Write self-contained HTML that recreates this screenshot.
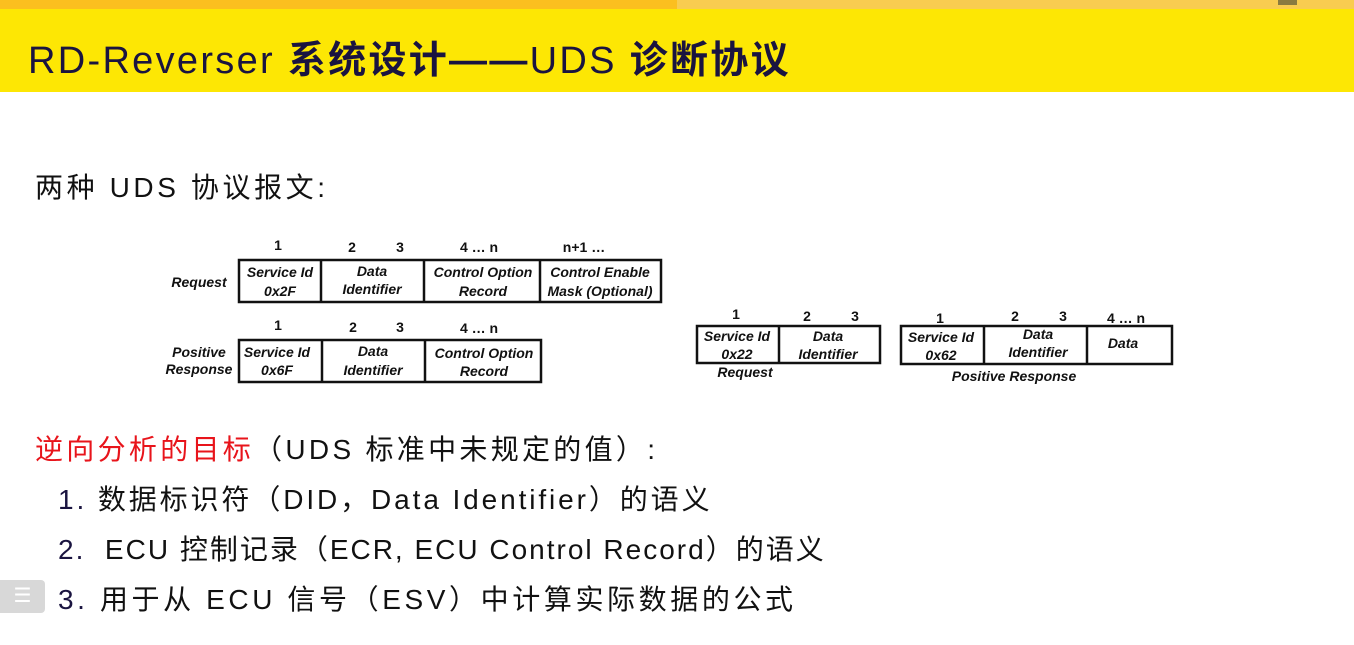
<!DOCTYPE html>
<html><head><meta charset="utf-8"><style>
body{margin:0;width:1354px;height:645px;overflow:hidden;background:#fff;position:relative;font-family:"Liberation Sans","Noto Sans CJK SC",sans-serif}
.t{position:absolute;white-space:nowrap;font-size:28px;color:#111;letter-spacing:3px}
</style></head><body>
<div style="position:absolute;left:0;top:0;width:677px;height:9px;background:#fbbf1f"></div>
<div style="position:absolute;left:677px;top:0;width:677px;height:9px;background:#f9cc50"></div>
<div style="position:absolute;left:1278px;top:0;width:19px;height:5px;background:#8a7a40"></div>
<div style="position:absolute;left:0;top:9px;width:1354px;height:83px;background:#fde704"></div>
<div class="t" style="left:28px;top:29px;font-size:38px;color:#1a1440;letter-spacing:2.3px">RD-Reverser <b>系统设计——</b>UDS <b>诊断协议</b></div>
<div class="t" style="left:35px;top:166px;letter-spacing:3.6px">两种 UDS 协议报文:</div>
<div class="t" style="left:35px;top:428px;letter-spacing:3.3px"><span style="color:#e8141b">逆向分析的目标</span>（UDS 标准中未规定的值）:</div>
<div class="t" style="left:58px;top:478px;letter-spacing:2.9px"><span style="color:#1a1440">1.</span> 数据标识符（DID，Data Identifier）的语义</div>
<div class="t" style="left:58px;top:528px;letter-spacing:2px"><span style="color:#1a1440">2.</span>&nbsp; ECU 控制记录（ECR, ECU Control Record）的语义</div>
<div class="t" style="left:58px;top:578px;letter-spacing:3.6px"><span style="color:#1a1440">3.</span> 用于从 ECU 信号（ESV）中计算实际数据的公式</div>
<div style="position:absolute;left:0;top:580px;width:45px;height:33px;background:#d8d8d8;border-radius:0 4px 4px 0;color:#fff;font-size:20px;text-align:center;line-height:33px">☰</div>
<svg width="1354" height="645" style="position:absolute;left:0;top:0" font-family="Liberation Sans, sans-serif" font-weight="bold" font-size="14" fill="#111">
<g fill="none" stroke="#111" stroke-width="2.5">
<rect x="239" y="260" width="422" height="42"/><line x1="321" y1="260" x2="321" y2="302"/><line x1="424" y1="260" x2="424" y2="302"/><line x1="540" y1="260" x2="540" y2="302"/>
<rect x="239" y="340" width="302" height="42"/><line x1="322" y1="340" x2="322" y2="382"/><line x1="425" y1="340" x2="425" y2="382"/>
<rect x="697" y="326" width="183" height="37"/><line x1="779" y1="326" x2="779" y2="363"/>
<rect x="901" y="326" width="271" height="38"/><line x1="984" y1="326" x2="984" y2="364"/><line x1="1087" y1="326" x2="1087" y2="364"/>
</g>
<g text-anchor="middle">
<text x="278" y="250">1</text><text x="352" y="252">2</text><text x="400" y="252">3</text><text x="479" y="252">4 … n</text><text x="584" y="252">n+1 …</text>
<g font-style="italic"><text x="280" y="277">Service Id</text><text x="280" y="296">0x2F</text><text x="372" y="276">Data</text><text x="372" y="294">Identifier</text><text x="483" y="277">Control Option</text><text x="483" y="296">Record</text><text x="600" y="277">Control Enable</text><text x="600" y="296">Mask (Optional)</text>
<text x="199" y="287">Request</text><text x="199" y="357">Positive</text><text x="199" y="374">Response</text></g>
<text x="278" y="330">1</text><text x="353" y="332">2</text><text x="400" y="332">3</text><text x="479" y="333">4 … n</text>
<g font-style="italic"><text x="277" y="357">Service Id</text><text x="277" y="375">0x6F</text><text x="373" y="356">Data</text><text x="373" y="375">Identifier</text><text x="484" y="358">Control Option</text><text x="484" y="376">Record</text></g>
<text x="736" y="319">1</text><text x="807" y="321">2</text><text x="855" y="321">3</text>
<g font-style="italic"><text x="737" y="341">Service Id</text><text x="737" y="359">0x22</text><text x="828" y="341">Data</text><text x="828" y="359">Identifier</text><text x="745" y="377">Request</text></g>
<text x="940" y="323">1</text><text x="1015" y="321">2</text><text x="1063" y="321">3</text><text x="1126" y="323">4 … n</text>
<g font-style="italic"><text x="941" y="342">Service Id</text><text x="941" y="360">0x62</text><text x="1038" y="339">Data</text><text x="1038" y="357">Identifier</text><text x="1123" y="348">Data</text><text x="1014" y="381">Positive Response</text></g>
</g>
</svg>
</body></html>
